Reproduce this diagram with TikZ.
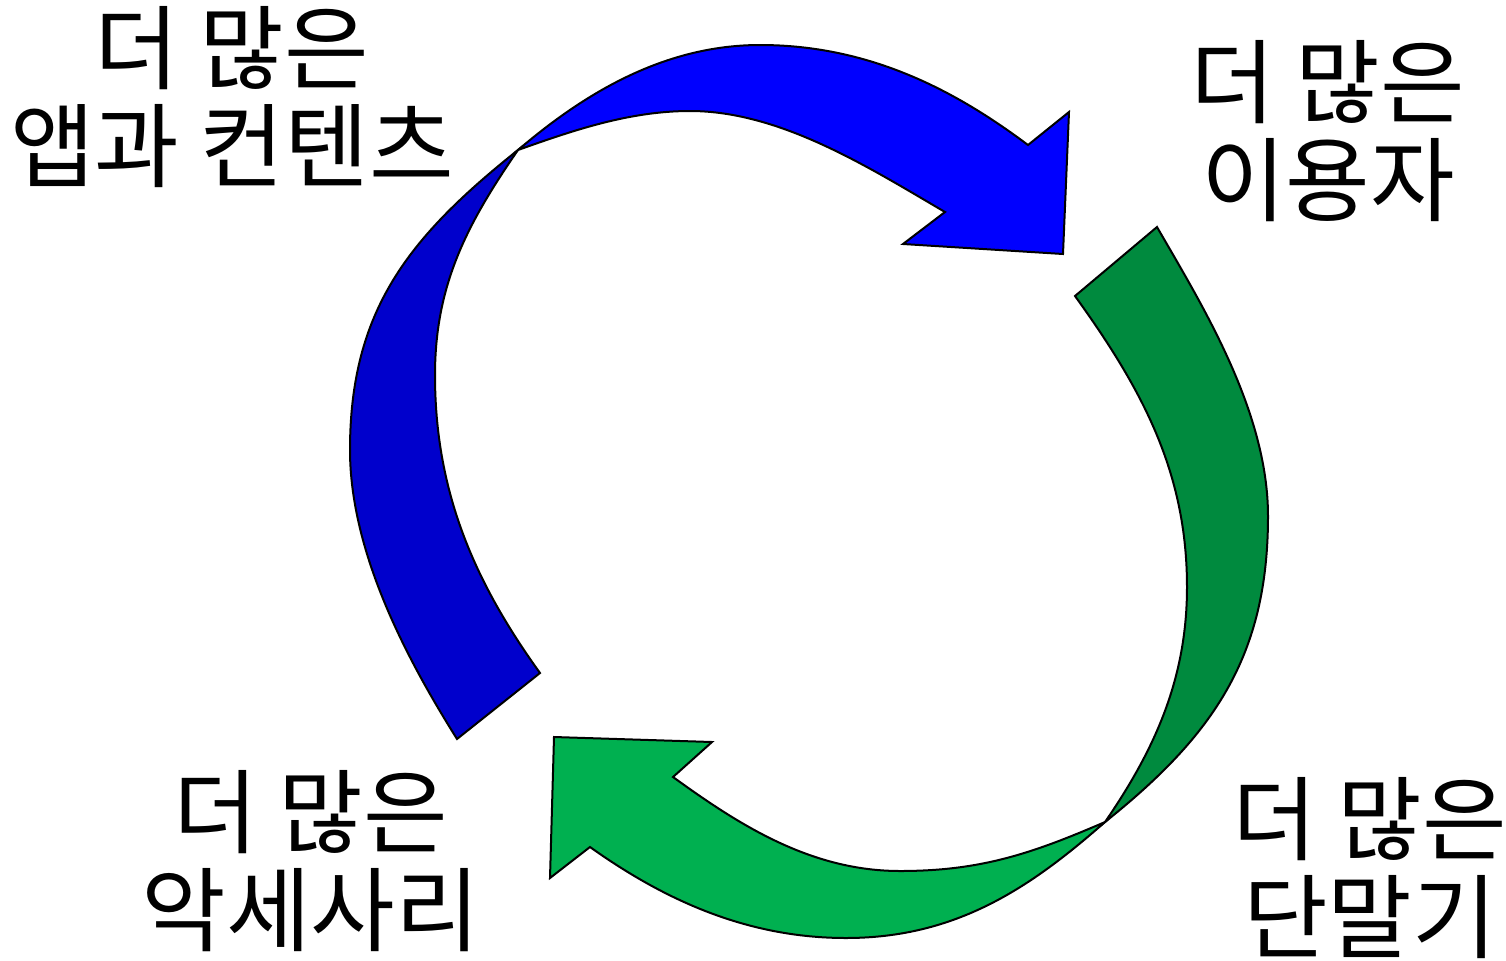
\documentclass[tikz,border=0pt]{standalone}
\usepackage{fontspec}
\newfontfamily\kr{Noto Sans CJK KR}
\definecolor{bluedark}{HTML}{0000CC}
\definecolor{bluelight}{HTML}{0000FF}
\definecolor{greendark}{HTML}{008A3E}
\definecolor{greenlight}{HTML}{00B050}
\begin{document}
\begin{tikzpicture}[x=0.5pt,y=-0.5pt,
  band/.style={draw=black,line width=1pt},
  lbl/.style={align=center,inner sep=0pt,font=\kr\fontsize{46}{49}\selectfont}]
\useasboundingbox (0,0) rectangle (1506,960);
% blue arrow, dark band
\path[band,fill=bluedark] (457,739) .. controls (410,664) and (350,555) .. (350,450)
  .. controls (350,310) and (409,237) .. (518,150)
  .. controls (467,224) and (435,285) .. (435,375)
  .. controls (435,490) and (473,580) .. (540,673) -- cycle;
% blue arrow, light band with head
\path[band,fill=bluelight] (518,150)
  .. controls (579,98) and (660,45) .. (760,45)
  .. controls (870,45) and (956,91) .. (1028,145)
  -- (1069,112) -- (1063,254) -- (903,244) -- (945,212)
  .. controls (868,167) and (780,111) .. (690,111)
  .. controls (630,111) and (574,130) .. (518,150) -- cycle;
% green arrow, dark band
\path[band,fill=greendark] (1157,227) .. controls (1202,305) and (1268,411) .. (1268,516)
  .. controls (1268,656) and (1214,735) .. (1105,822)
  .. controls (1156,748) and (1187,677) .. (1187,587)
  .. controls (1187,472) and (1142,389) .. (1075,296) -- cycle;
% green arrow, light band with head
\path[band,fill=greenlight] (1105,822)
  .. controls (1030,888) and (956,938) .. (846,938)
  .. controls (746,938) and (663,899) .. (590,847)
  -- (550,878) -- (554,737) -- (712,742) -- (673,777)
  .. controls (738,824) and (810,871) .. (900,871)
  .. controls (980,871) and (1031,854) .. (1105,822) -- cycle;
% labels
\node[lbl] (tl) at (232,97) {더 많은\\앱과 컨텐츠};
\node[lbl] (tr) at (1328,131) {더 많은\\이용자};
\node[lbl] (bl) at (311,861) {더 많은\\악세사리};
\node[lbl] (br) at (1370,868) {더 많은\\단말기};
\end{tikzpicture}
\end{document}
